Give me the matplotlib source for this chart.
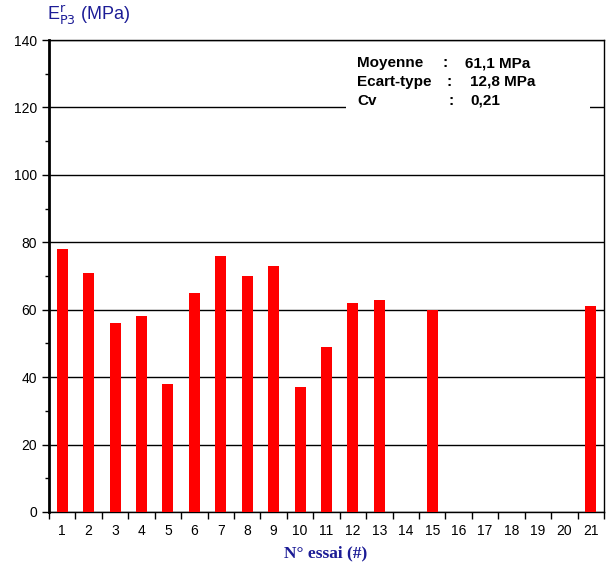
import matplotlib
matplotlib.use('Agg')
import matplotlib.pyplot as plt
from matplotlib.patches import Rectangle
import numpy as np

plt.rcParams['font.family'] = ['Liberation Sans', 'DejaVu Sans']

# data
essais = list(range(1, 22))
tick_labels = [str(i) for i in essais]
module = [78, 71, 56, 58, 38, 65, 76, 70, 73, 37, 49, 62, 63, 0, 60, 0, 0, 0, 0, 0, 61]
stats_names = ['Moyenne', 'Ecart-type', 'Cv']
stats_values = ['61,1 MPa', '12,8 MPa', '0,21']

navy = '#1c1c96'

fig = plt.figure(figsize=(6.08, 5.69), dpi=100)
ax = fig.add_axes([0.0806, 0.1002, 0.9128, 0.8295])

ax.bar(essais, module, width=0.42, color='#ff0000', zorder=3)

ax.set_xlim(0.5, 21.5)
ax.set_ylim(0, 140)

# y axis
ax.set_yticks(np.arange(0, 141, 20))
ax.set_yticks(np.arange(10, 140, 20), minor=True)
ax.tick_params(axis='y', which='major', length=5, width=1, labelsize=10, direction='out')
ax.tick_params(axis='y', which='minor', length=3, width=1, direction='out')
ax.yaxis.grid(True, which='major', color='black', linewidth=1)
ax.set_axisbelow(True)

# x axis: ticks between categories, labels on categories
ax.set_xticks(np.arange(0.5, 21.6, 1))
ax.set_xticklabels([])
ax.set_xticks(essais, minor=True)
ax.set_xticklabels(tick_labels, minor=True)
ax.tick_params(axis='x', which='major', length=5, width=1, direction='out')
ax.tick_params(axis='x', which='minor', length=0, labelsize=10, pad=9)

for side in ['top', 'right', 'bottom']:
    ax.spines[side].set_linewidth(1)
    ax.spines[side].set_color('black')
ax.spines['left'].set_linewidth(2)

# white box behind statistics
ax.add_patch(Rectangle((0.535, 0.847), 0.44, 0.143, transform=ax.transAxes,
                       facecolor='white', edgecolor='none', zorder=2))

rows_y = [63, 82, 101]
colon_x = [443, 446, 448]
value_x = [465, 470, 470]
for i in range(3):
    y = 1 - rows_y[i] / 569
    fig.text(357 / 608, y, stats_names[i], fontsize=11, fontweight='bold', va='center')
    fig.text(colon_x[i] / 608, y, ':', fontsize=11, fontweight='bold', va='center')
    fig.text(value_x[i] / 608, y, stats_values[i], fontsize=11, fontweight='bold', va='center')

fig.text(47 / 608, 1 - 15 / 569, r'E$^{\mathrm{r}}_{\mathrm{P3}}$ (MPa)', fontsize=13,
         color=navy, va='center', ha='left')
fig.text(326 / 608, 1 - 553 / 569, 'N° essai (#)', fontsize=12.5, fontweight='bold',
         color=navy, ha='center', va='center', family=['Liberation Serif', 'DejaVu Serif'])

fig.savefig('out.png', dpi=100, facecolor='white')
